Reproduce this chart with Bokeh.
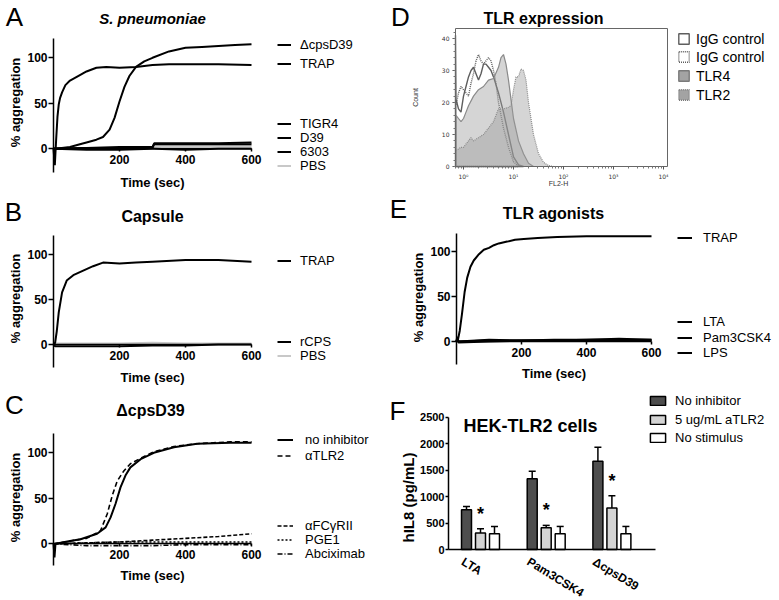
import math
import numpy as np
from bokeh.plotting import figure
from bokeh.models import (Range1d, FixedTicker, Label, Legend, LegendItem, Whisker,
                          ColumnDataSource, TeeHead, LinearAxis, LogAxis)
from bokeh.layouts import column, row
from bokeh.embed import file_html
from bokeh.resources import INLINE
from bokeh.core.properties import value
from bokeh.transform import dodge

FONT = "Liberation Sans"

# ---------------- data ----------------
# A: S. pneumoniae
A_t_cps = [0, 25, 50, 80, 100, 130, 150, 170, 185, 200, 215, 230, 250, 275, 300, 350, 400, 450, 500, 550, 600]
A_cps = [0, 1, 2, 5, 7, 10, 13, 21, 34, 52, 68, 80, 90, 96, 100, 107, 111, 112, 113, 114, 115]
A_t_trap = [0, 4, 8, 12, 16, 20, 26, 36, 50, 65, 80, 100, 130, 160, 200, 250, 300, 350, 400, 500, 600]
A_trap = [0, -18, 10, 35, 49, 56, 62, 70, 75, 78, 81, 85, 89, 90, 89, 90, 92, 93, 93, 93, 92]
A_t_low = [0, 100, 200, 300, 305, 400, 500, 600]
A_tigr4 = [0, 1, 2, 2, 6, 6, 6, 7]
A_d39 = [0, 1, 1, 1, 5, 5, 5, 5]
A_6303 = [0, -1, -1, 0, 0, -1, 0, 0]
A_pbs = [0, 1, 1, 1, 3, 3, 3, 3]

# B: Capsule
B_t_trap = [0, 5, 10, 16, 26, 40, 60, 90, 120, 150, 200, 250, 300, 400, 500, 600]
B_trap = [0, 2, 15, 36, 58, 71, 77, 82, 87, 91, 90, 91, 92, 94, 94, 92]
B_t_low = [0, 5, 100, 200, 300, 400, 500, 600]
B_rcps = [0, -2, -2, -2, -1, -1, 0, 0]
B_pbs = [0, 1, 1, 1, 2, 1, 1, 1]

# C: dcpsD39 with inhibitors
C_t_noinh = [0, 3, 6, 50, 82, 132, 158, 173, 188, 203, 218, 233, 264, 304, 365, 435, 536, 600]
C_noinh = [0, -15, 0, 3, 5, 11, 18, 29, 44, 62, 75, 84, 93, 100, 106, 110, 111, 111]
C_t_tlr2 = [0, 50, 100, 142, 163, 178, 193, 213, 233, 264, 304, 365, 435, 536, 600]
C_tlr2 = [0, 3, 6, 14, 33, 53, 69, 80, 88, 94, 101, 107, 110, 112, 112]
C_t_low = [0, 100, 200, 300, 400, 500, 600]
C_fcgr = [0, 1, 2, 4, 6, 8, 11]
C_pge1 = [0, 1, 2, 2, 2, 2, 2]
C_abcix = [0, -2, -2, -2, -1, -1, -1]

# D: TLR expression histograms (log10 FL2-H, count)
D_igg1_exp = [-0.16, -0.15, -0.1, -0.05, 0.0, 0.05, 0.1, 0.15, 0.2, 0.25, 0.3, 0.35, 0.4, 0.45, 0.5, 0.55, 0.6, 0.7, 0.8, 0.9, 1.0, 1.1, 1.2]
D_igg1_cnt = [41, 21, 18, 17, 22, 25, 28, 30, 31, 29, 27, 29, 32, 32, 31, 30, 28, 23, 17, 10, 3, 0.5, 0]
D_igg2_exp = [-0.15, -0.1, -0.05, 0.0, 0.05, 0.1, 0.15, 0.2, 0.25, 0.3, 0.35, 0.4, 0.45, 0.5, 0.55, 0.6, 0.65, 0.7, 0.75, 0.8, 0.85, 0.9, 1.0, 1.1]
D_igg2_cnt = [19, 23, 25, 24, 23, 22, 26, 29, 33, 35, 33, 32, 33, 34, 33, 30, 26, 20, 16, 12, 9, 6, 1.5, 0]
D_tlr4_exp = [-0.15, -0.1, -0.05, 0.0, 0.05, 0.1, 0.2, 0.3, 0.4, 0.5, 0.6, 0.7, 0.75, 0.8, 0.85, 0.9, 0.95, 1.0, 1.1, 1.2, 1.3, 1.4]
D_tlr4_cnt = [16, 15, 14, 15, 17, 19, 22, 24, 25, 27, 27.5, 31, 34, 35, 32, 27, 21, 15, 8, 4, 1, 0]
D_tlr2_exp = [-0.15, -0.05, 0.0, 0.1, 0.15, 0.2, 0.3, 0.4, 0.5, 0.6, 0.7, 0.8, 0.9, 0.95, 1.0, 1.05, 1.1, 1.15, 1.2, 1.25, 1.3, 1.4, 1.5, 1.6, 1.7, 1.8]
D_tlr2_cnt = [5, 6, 6, 8, 9, 8, 9, 10, 12, 14, 18, 18, 18.5, 19, 24, 28, 28, 30.5, 30, 27, 20, 10, 4, 1.3, 0.3, 0]
D_xlim_exp = (-0.16, 4.08)
D_ylim = (0, 43.1)

# E: TLR agonists
E_t_trap = [0, 2, 5, 10, 17, 25, 33, 43, 53, 69, 84, 100, 115, 130, 156, 180, 207, 250, 310, 400, 500, 600]
E_trap = [0, 5, 3, 12, 31, 55, 71, 83, 90, 97, 102, 104, 107, 109, 111, 113, 114, 115, 116, 117, 117, 117]
E_t_low = [0, 3, 6, 100, 200, 300, 400, 500, 600]
E_lta = [0, 5, 0, 2, 1, 2, 2, 3, 2]
E_pam = [0, 4, 0, 1, 1, 1, 2, 2, 2]
E_lps = [0, 3, -1, 0, 1, 1, 1, 1, 1]

# F: HEK-TLR2 cells
F_groups = ["LTA", "Pam3CSK4", "\u0394cpsD39"]
F_noinh = [750, 1335, 1665]
F_noinh_err = [60, 140, 265]
F_atlr2 = [310, 410, 785]
F_atlr2_err = [80, 45, 230]
F_nostim = [295, 295, 295]
F_nostim_err = [140, 140, 140]


# ---------------- helpers ----------------
def base_fig(ox, oy, w, h, xr, yr, **kw):
    p = figure(width=w, height=h, x_range=Range1d(*xr), y_range=Range1d(*yr),
               output_backend="svg", toolbar_location=None,
               min_border=0, min_border_left=0, min_border_right=0,
               min_border_top=0, min_border_bottom=0, **kw)
    p.grid.visible = False
    p.outline_line_color = None
    p.background_fill_color = "white"
    p.border_fill_color = "white"
    g = {"ox": ox, "oy": oy, "h": h}
    return p, g


def add_text(p, txt, ix, iy, g, size, style="normal", align="center", angle=0,
             color="black", font=FONT):
    p.add_layout(Label(x=ix - g["ox"], y=g["oy"] + g["h"] - iy, x_units="screen", y_units="screen",
                       text=txt, text_font=font, text_font_size=f"{size}px",
                       text_font_style=style, text_align=align, text_baseline="middle",
                       text_color=color, angle=angle))


def add_entry(p, rens, label, gx, cy, g, gw, gh, standoff, fsize, lh=None):
    H = lh or gh
    lg = Legend(items=[LegendItem(label=label, renderers=rens)],
                location=(gx - g["ox"], g["oy"] + g["h"] - cy - H / 2.0),
                padding=0, margin=0, spacing=0, glyph_width=gw, glyph_height=gh,
                label_height=H, label_standoff=standoff, label_text_font=FONT,
                label_text_font_size=f"{fsize}px", label_text_baseline="middle",
                label_text_color="black",
                background_fill_alpha=0, border_line_alpha=0, inactive_fill_alpha=0)
    p.add_layout(lg)


def style_axis(ax, size, bold=True):
    ax.major_label_text_font = FONT
    ax.major_label_text_font_size = f"{size}px"
    ax.major_label_text_font_style = "bold" if bold else "normal"
    ax.major_label_text_color = "black"
    ax.axis_line_color = "black"
    ax.major_tick_line_color = "black"
    ax.minor_tick_line_color = None


def agg_panel(ox, oy, w, h, x_left, x600, y0, y100, ax_top, ax_bot, ylab_x, ylab_y, tlab_y):
    pxs = (x600 - x_left) / 600.0
    pxu = (y0 - y100) / 100.0
    xr = ((ox - x_left) / pxs, (ox + w - x_left) / pxs)
    yr = ((y0 - (oy + h)) / pxu, (y0 - oy) / pxu)
    p, g = base_fig(ox, oy, w, h, xr, yr)
    xa = p.xaxis[0]
    ya = p.yaxis[0]
    xa.fixed_location = 0
    xa.bounds = (0, 600)
    xa.ticker = FixedTicker(ticks=[200, 400, 600])
    style_axis(xa, 12)
    xa.major_tick_out = 3
    xa.major_tick_in = 0
    xa.major_label_standoff = 3
    xa.axis_line_width = 1.5
    xa.major_tick_line_width = 1.5
    ya.fixed_location = 0
    ya.bounds = ((y0 - ax_bot) / pxu, (y0 - ax_top) / pxu)
    ya.ticker = FixedTicker(ticks=[0, 50, 100])
    style_axis(ya, 12)
    ya.major_tick_out = 5
    ya.major_tick_in = 0
    ya.major_label_standoff = 1
    ya.axis_line_width = 1.5
    ya.major_tick_line_width = 1.5
    add_text(p, "% aggregation", ylab_x, ylab_y, g, 13, style="bold", angle=math.pi / 2)
    add_text(p, "Time (sec)", x_left + 300 * pxs, tlab_y, g, 13, style="bold")
    return p, g


LW = 2.0

# ---------------- Panel A ----------------
pA, gA = agg_panel(0, 0, 390, 195, 53, 251, 148.3, 57.3, 38, 172, 15, 102, 182)
rA_pbs = pA.line(A_t_low, A_pbs, line_color="#c8c8c8", line_width=LW)
rA_6303 = pA.line(A_t_low, A_6303, line_color="black", line_width=LW)
rA_d39 = pA.line(A_t_low, A_d39, line_color="black", line_width=LW)
rA_tigr4 = pA.line(A_t_low, A_tigr4, line_color="black", line_width=LW)
rA_trap = pA.line(A_t_trap, A_trap, line_color="black", line_width=LW)
rA_cps = pA.line(A_t_cps, A_cps, line_color="black", line_width=LW)
add_text(pA, "A", 14, 16, gA, 26)
add_text(pA, "S. pneumoniae", 152, 18, gA, 15, style="bold italic")
for r, lab, cy in [(rA_cps, "\u0394cpsD39", 45), (rA_trap, "TRAP", 64), (rA_tigr4, "TIGR4", 124),
                   (rA_d39, "D39", 138), (rA_6303, "6303", 152), (rA_pbs, "PBS", 166)]:
    add_entry(pA, [r], lab, 277, cy, gA, 14, 13, 9, 13)

# ---------------- Panel B ----------------
pB, gB = agg_panel(0, 195, 390, 195, 53, 251, 344, 254, 235, 367, 15, 298, 377)
rB_pbs = pB.line(B_t_low, B_pbs, line_color="#c8c8c8", line_width=LW)
rB_rcps = pB.line(B_t_low, B_rcps, line_color="black", line_width=LW)
rB_trap = pB.line(B_t_trap, B_trap, line_color="black", line_width=LW)
add_text(pB, "B", 13, 211, gB, 26)
add_text(pB, "Capsule", 152, 216, gB, 16, style="bold")
for r, lab, cy in [(rB_trap, "TRAP", 261), (rB_rcps, "rCPS", 342), (rB_pbs, "PBS", 356)]:
    add_entry(pB, [r], lab, 277, cy, gB, 14, 13, 9, 13)

# ---------------- Panel C ----------------
pC, gC = agg_panel(0, 390, 390, 210, 53, 251, 543.3, 452.3, 433, 565, 15, 497, 575)
rC_abc = pC.line(C_t_low, C_abcix, line_color="black", line_width=1.6, line_dash="5 2 1 2")
rC_pge = pC.line(C_t_low, C_pge1, line_color="black", line_width=1.6, line_dash="2 2")
rC_fcg = pC.line(C_t_low, C_fcgr, line_color="black", line_width=1.6, line_dash="4 2")
rC_tlr2 = pC.line(C_t_tlr2, C_tlr2, line_color="black", line_width=1.6, line_dash="5 3")
rC_no = pC.line(C_t_noinh, C_noinh, line_color="black", line_width=LW)
add_text(pC, "C", 14, 404, gC, 26)
add_text(pC, "\u0394cpsD39", 150, 410, gC, 16, style="bold")
for r, lab, cy in [(rC_no, "no inhibitor", 440), (rC_tlr2, "\u03b1TLR2", 456),
                   (rC_fcg, "\u03b1FC\u03b3RII", 526), (rC_pge, "PGE1", 540),
                   (rC_abc, "Abciximab", 554)]:
    add_entry(pC, [r], lab, 277, cy, gC, 16, 13, 12, 13)

# ---------------- Panel D ----------------
# screen geometry: 10^0 at x=463, 50 px per decade; count 0 at y=166, 3.2 px per count
D_ox, D_oy, D_w, D_h = 390, 0, 389, 195
dxs = ((D_ox - 463) / 50.0, (D_ox + D_w - 463) / 50.0)
dys = ((166 - (D_oy + D_h)) / 3.2, (166 - D_oy) / 3.2)
pD, gD = base_fig(D_ox, D_oy, D_w, D_h, (10 ** dxs[0], 10 ** dxs[1]), dys, x_axis_type="log")
dx0, dx1 = 10 ** D_xlim_exp[0], 10 ** D_xlim_exp[1]


def hist_xy(exps, cnts):
    xs = list(10 ** np.array(exps, dtype=float))
    return [xs[0]] + xs + [xs[-1]], [0] + list(cnts) + [0]


x1, y1 = hist_xy(D_igg1_exp, D_igg1_cnt)
pD.patch(x1, y1, fill_alpha=0, line_color="#5e5e5e", line_width=1.4)
x2, y2 = hist_xy(D_igg2_exp, D_igg2_cnt)
pD.patch(x2, y2, fill_alpha=0, line_color="#5e5e5e", line_width=1.4, line_dash="1 1")
x4, y4 = hist_xy(D_tlr4_exp, D_tlr4_cnt)
pD.patch(x4, y4, fill_color="#9a9a9a", fill_alpha=0.42, line_color="#8a8a8a", line_width=1.2)
x22, y22 = hist_xy(D_tlr2_exp, D_tlr2_cnt)
pD.patch(x22, y22, fill_color="#9a9a9a", fill_alpha=0.42, line_color="#8a8a8a", line_width=1.2,
         line_dash="1 1")
# legend swatch renderers (hidden copies with opaque legend styling)
pr1 = pD.patch(x1, y1, fill_color="white", line_color="#5e5e5e", line_width=1.4, visible=False)
pr2 = pD.patch(x2, y2, fill_color="white", line_color="#5e5e5e", line_width=1.4, line_dash="1 1",
               visible=False)
pr3 = pD.patch(x4, y4, fill_color="#a3a3a3", line_color="#7a7a7a", line_width=1.4, visible=False)
pr4 = pD.patch(x22, y22, fill_color="#a3a3a3", line_color="#7a7a7a", line_width=1.4, line_dash="1 1",
               visible=False)
for r, lab, cy in [(pr1, "IgG control", 40), (pr2, "IgG control", 58), (pr3, "TLR4", 77), (pr4, "TLR2", 96)]:
    add_entry(pD, [r], lab, 677, cy, gD, 13, 13, 6, 14)

minor = []
for dec in [0.1, 1, 10, 100, 1000]:
    for m in range(2, 10):
        if dx0 < dec * m < dx1:
            minor.append(dec * m)
xaD = pD.xaxis[0]
xaD.fixed_location = 0
xaD.bounds = (dx0, dx1)
xaD.ticker = FixedTicker(ticks=[1, 10, 100, 1000, 10000], minor_ticks=minor)
xaD.major_label_overrides = {1: "10\u2070", 10: "10\u00b9", 100: "10\u00b2", 1000: "10\u00b3", 10000: "10\u2074"}
yaD = pD.yaxis[0]
yaD.fixed_location = dx0
yaD.bounds = D_ylim
yaD.ticker = FixedTicker(ticks=[0, 10, 20, 30, 40], minor_ticks=list(range(0, 44, 2)))
topD = LogAxis(fixed_location=D_ylim[1], bounds=(dx0, dx1), ticker=FixedTicker(ticks=[]),
               major_label_text_font_size="0px")
rightD = LinearAxis(fixed_location=dx1, bounds=D_ylim, ticker=FixedTicker(ticks=[]),
                    major_label_text_font_size="0px")
pD.add_layout(topD, "above")
pD.add_layout(rightD, "right")
for ax in (xaD, yaD, topD, rightD):
    ax.major_label_text_font = "DejaVu Sans"
    ax.major_label_text_font_size = "6px"
    ax.major_label_text_color = "#333333"
    ax.axis_line_color = "#666666"
    ax.major_tick_line_color = "#555555"
    ax.minor_tick_line_color = "#777777"
    ax.major_tick_out = 3
    ax.major_tick_in = 0
    ax.minor_tick_out = 2
    ax.minor_tick_in = 0
    ax.major_label_standoff = 3
topD.major_label_text_font_size = "0px"
rightD.major_label_text_font_size = "0px"
add_text(pD, "Count", 415, 97, gD, 7, angle=math.pi / 2, color="#333333")
add_text(pD, "FL2-H", 558, 183, gD, 7, color="#333333")
add_text(pD, "D", 400, 16, gD, 26)
add_text(pD, "TLR expression", 543, 18, gD, 16, style="bold")

# ---------------- Panel E ----------------
pE, gE = agg_panel(390, 195, 389, 195, 456, 651, 341, 251, 233, 364, 418, 297, 373)
rE_lps = pE.line(E_t_low, E_lps, line_color="black", line_width=LW)
rE_pam = pE.line(E_t_low, E_pam, line_color="black", line_width=LW)
rE_lta = pE.line(E_t_low, E_lta, line_color="black", line_width=LW)
rE_trap = pE.line(E_t_trap, E_trap, line_color="black", line_width=LW)
add_text(pE, "E", 398, 208, gE, 26)
add_text(pE, "TLR agonists", 553, 213, gE, 16, style="bold")
for r, lab, cy in [(rE_trap, "TRAP", 238), (rE_lta, "LTA", 322), (rE_pam, "Pam3CSK4", 338), (rE_lps, "LPS", 353)]:
    add_entry(pE, [r], lab, 677, cy, gE, 15, 13, 11, 13)

# ---------------- Panel F ----------------
# screen geometry: group 0 centre at x=480, 65.7 px per group; 0 pg/mL at y=549, 26.5 px per 500
F_ox, F_oy, F_w, F_h = 390, 390, 389, 210
F_pxx, F_pxy = 65.7, 26.5 / 500.0
fxr = ((F_ox - 480) / F_pxx, (F_ox + F_w - 480) / F_pxx)
fyr = ((549 - (F_oy + F_h)) / F_pxy, (549 - F_oy) / F_pxy)
pF, gF = base_fig(F_ox, F_oy, F_w, F_h, fxr, fyr)
F_xbounds = ((448 - 480) / F_pxx, (655 - 480) / F_pxx)
F_x = [0, 1, 2]
F_off = 0.213
F_w_bar = 0.152
srcF = ColumnDataSource(dict(
    x=F_x, grp=F_groups, base=[0, 0, 0], noinh=F_noinh, atlr2=F_atlr2, nostim=F_nostim,
    noinh_hi=[a + b for a, b in zip(F_noinh, F_noinh_err)],
    atlr2_hi=[a + b for a, b in zip(F_atlr2, F_atlr2_err)],
    nostim_hi=[a + b for a, b in zip(F_nostim, F_nostim_err)],
))
bars = []
for key, off, col in [("noinh", -F_off, "#4e4e4e"), ("atlr2", 0.0, "#d4d4d4"), ("nostim", F_off, "white")]:
    r = pF.vbar(x=dodge("x", off, range=pF.x_range), top=key, width=F_w_bar, bottom=0, source=srcF,
                fill_color=col, line_color="black", line_width=1.5)
    bars.append(r)
    wk = Whisker(source=srcF, base=dodge("x", off, range=pF.x_range), lower=key, upper=key + "_hi",
                 dimension="height", line_color="black", line_width=1.5, lower_head=None,
                 upper_head=TeeHead(size=7, line_color="black", line_width=1.5))
    pF.add_layout(wk)
pF.text(x="x", y="atlr2_hi", text=value("*"), source=srcF, text_font=value(FONT),
        text_font_size="18px", text_font_style="bold", text_align="center",
        text_baseline="middle", y_offset=-15)
# category labels (rotated), anchored below each group
pF.text(x="x", y="base", text="grp", source=srcF, text_font=value(FONT),
        text_font_size="12px", text_font_style="bold", text_align="left",
        text_baseline="middle", angle=-0.55, x_offset=-18, y_offset=11)
xaF = pF.xaxis[0]
xaF.fixed_location = 0
xaF.bounds = F_xbounds
xaF.ticker = FixedTicker(ticks=[])
style_axis(xaF, 12)
xaF.major_label_text_font_size = "0px"
xaF.major_tick_line_color = None
xaF.axis_line_width = 1.5
yaF = pF.yaxis[0]
yaF.fixed_location = F_xbounds[0]
yaF.bounds = (0, 2500)
yaF.ticker = FixedTicker(ticks=[0, 500, 1000, 1500, 2000, 2500])
style_axis(yaF, 11)
yaF.major_tick_out = 3
yaF.major_tick_in = 0
yaF.major_label_standoff = 1
yaF.axis_line_width = 1.5
yaF.major_tick_line_width = 1.5
add_text(pF, "hIL8 (pg/mL)", 408, 497, gF, 15, style="bold", angle=math.pi / 2)
add_text(pF, "F", 397, 410, gF, 26)
add_text(pF, "HEK-TLR2 cells", 463, 425, gF, 18, style="bold", align="left")
for r, lab, cy in zip(bars, ["No inhibitor", "5 ug/mL aTLR2", "No stimulus"], [401, 420, 438]):
    add_entry(pF, [r], lab, 648, cy, gF, 19, 11, 8, 13, lh=14)

layout = column(row(pA, pD), row(pB, pE), row(pC, pF))
open("out.html", "w").write(file_html(layout, INLINE))
